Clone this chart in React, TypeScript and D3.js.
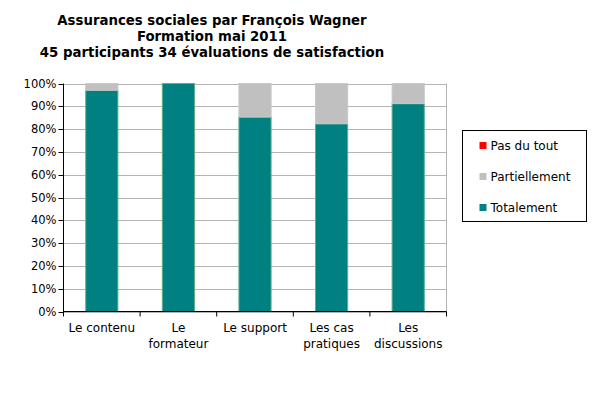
import React from "react";
import * as d3 from "d3";

const categories = ["Le contenu", "Le formateur", "Le support", "Les cas pratiques", "Les discussions"];
const categoryLines = [["Le contenu"], ["Le", "formateur"], ["Le support"], ["Les cas", "pratiques"], ["Les", "discussions"]];
const totalement = [33, 34, 29, 28, 31];
const partiellement = [1, 0, 5, 6, 3];
const pasDuTout = [0, 0, 0, 0, 0];
const seriesNames = ["Totalement", "Partiellement", "Pas du tout"];
const seriesColors = ["#008080", "#c0c0c0", "#ff0000"];
const legendOrder = ["Pas du tout", "Partiellement", "Totalement"];
const yTicks = [0, 0.1, 0.2, 0.3, 0.4, 0.5, 0.6, 0.7, 0.8, 0.9, 1];
const titleLines = [
	"Assurances sociales par François Wagner",
	"Formation mai 2011",
	"45 participants 34 évaluations de satisfaction",
];

const W = 600;
const H = 394;
const left = 63.5;
const right = 446.5;
const top = 83.5;
const bottom = 311.5;
const font = "DejaVu Sans, Verdana, sans-serif";

const App: React.FC = () => {
	const rows = categories.map((c, i) => {
		const total = totalement[i] + partiellement[i] + pasDuTout[i];
		return {
			cat: c,
			Totalement: totalement[i] / total,
			Partiellement: partiellement[i] / total,
			"Pas du tout": pasDuTout[i] / total,
		};
	});
	const stack = d3.stack<any>().keys(seriesNames)(rows);

	const x = d3.scaleBand().domain(categories).range([left, right]).paddingInner(0.58).paddingOuter(0.29);
	const step = (right - left) / categories.length;
	const y = d3.scaleLinear().domain([0, 1]).range([bottom, top]);
	const color = d3.scaleOrdinal<string>().domain(seriesNames).range(seriesColors);
	const pct = d3.format(".0%");

	return (
		<svg width={W} height={H} style={{ display: "block", position: "absolute", left: 0, top: 0 }}>
			<rect width={W} height={H} fill="#fff" />
			{titleLines.map((t, i) => (
				<text key={i} x={212} y={25 + i * 16} textAnchor="middle" fontFamily={font} fontWeight="bold" fontSize={13.3}>
					{t}
				</text>
			))}
			{yTicks.map((t) => (
				<g key={t}>
					<line x1={left} x2={right} y1={Math.round(y(t)) + 0.5} y2={Math.round(y(t)) + 0.5} stroke="#b4b4b4" />
					<line x1={left - 5} x2={left} y1={Math.round(y(t)) + 0.5} y2={Math.round(y(t)) + 0.5} stroke="#000" />
					<text x={left - 7} y={y(t) + 4} textAnchor="end" fontFamily={font} fontSize={11.5}>
						{pct(t)}
					</text>
				</g>
			))}
			<line x1={right} x2={right} y1={top} y2={bottom} stroke="#b4b4b4" />
			{stack.map((s) => (
				<g key={s.key} fill={color(s.key)}>
					{s.map((d, i) =>
						d[1] - d[0] > 0 ? (
							<rect
								key={i}
								x={x(categories[i])}
								y={y(d[1])}
								width={x.bandwidth()}
								height={y(d[0]) - y(d[1])}
								stroke={s.key === "Totalement" ? "#5fae86" : "#c8c8c8"}
								strokeWidth={1}
							/>
						) : null
					)}
				</g>
			))}
			<line x1={left} x2={left} y1={top} y2={bottom + 0.5} stroke="#000" />
			<line x1={left} x2={right} y1={bottom} y2={bottom} stroke="#000" />
			{categories.map((c, i) => (
				<line key={"t" + i} x1={left + step * (i + 1)} x2={left + step * (i + 1)} y1={bottom} y2={bottom + 5} stroke="#000" />
			))}
			<line x1={left} x2={left} y1={bottom} y2={bottom + 5} stroke="#000" />
			{categoryLines.map((lines, i) => (
				<text key={"c" + i} textAnchor="middle" fontFamily={font} fontSize={12}>
					{lines.map((l, j) => (
						<tspan key={j} x={(x(categories[i]) as number) + x.bandwidth() / 2} y={332 + j * 15.5}>
							{l}
						</tspan>
					))}
				</text>
			))}
			<rect x={462.5} y={130.5} width={124} height={91} fill="#fff" stroke="#000" />
			{legendOrder.map((n, i) => (
				<g key={n} transform={`translate(479.5, ${142 + i * 31})`}>
					<rect width={7} height={7} fill={color(n)} />
					<text x={11} y={7.5} fontFamily={font} fontSize={12}>
						{n}
					</text>
				</g>
			))}
		</svg>
	);
};

export default App;
